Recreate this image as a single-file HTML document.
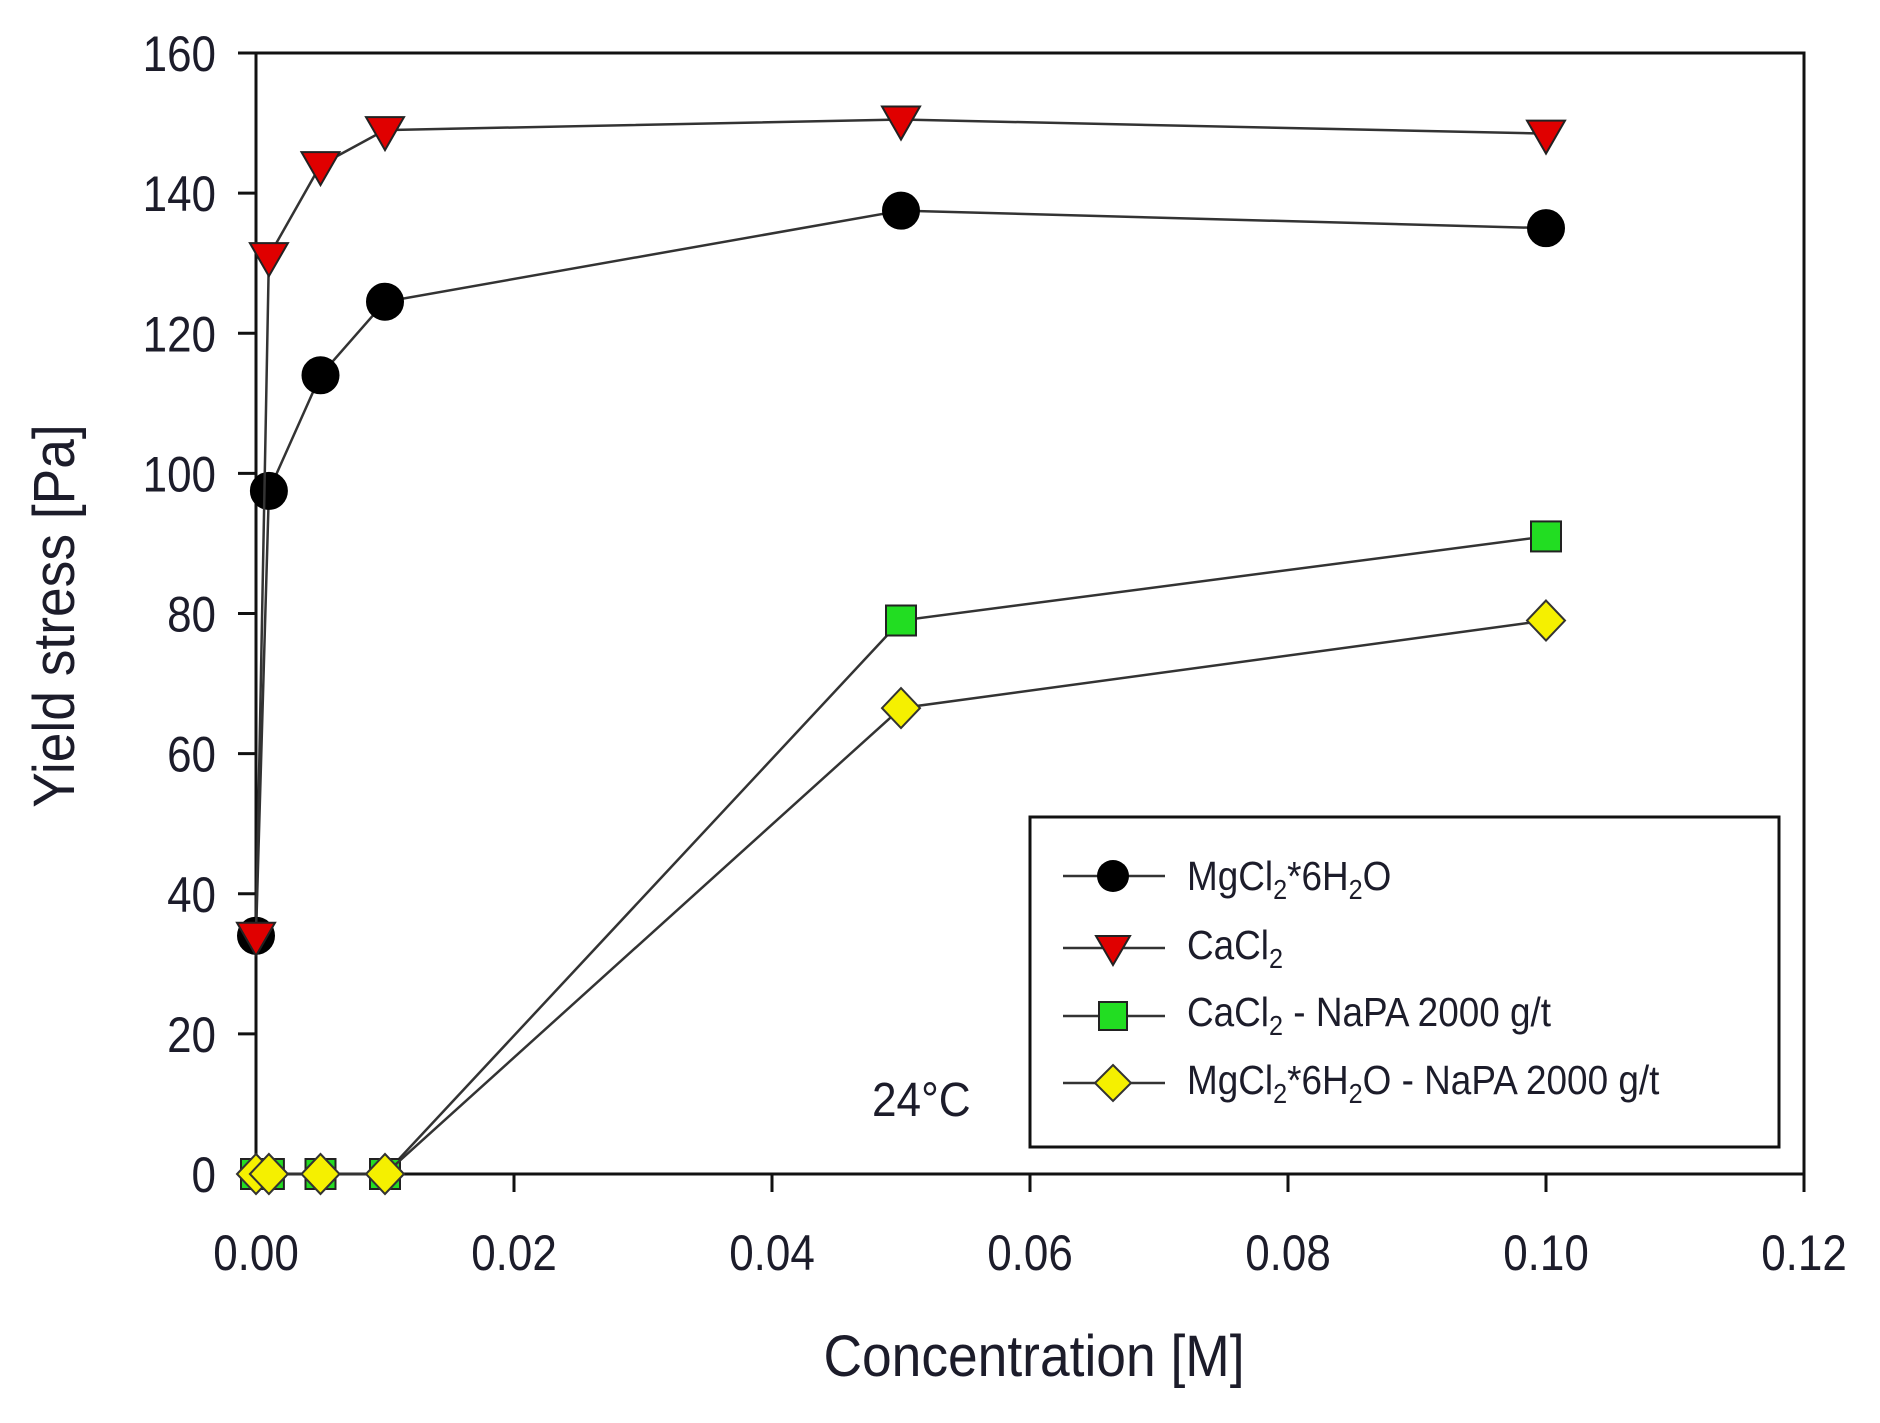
<!DOCTYPE html>
<html><head><meta charset="utf-8"><style>
body{margin:0;background:#fff}
svg text{font-family:"Liberation Sans",sans-serif;fill:#1c1c2a}
</style></head><body>
<svg id="chart" width="1880" height="1418" viewBox="0 0 1880 1418" xmlns="http://www.w3.org/2000/svg"></svg>
<script>
const xTicks=[0,0.02,0.04,0.06,0.08,0.10,0.12];
const xTickLabels=["0.00","0.02","0.04","0.06","0.08","0.10","0.12"];
const yTicks=[0,20,40,60,80,100,120,140,160];
const conc=[0,0.001,0.005,0.01,0.05,0.1];
const mgValues=[34,97.5,114,124.5,137.5,135];
const caValues=[34,131,144,149,150.5,148.5];
const caNapaValues=[0,0,0,0,79,91];
const mgNapaValues=[0,0,0,0,66.5,79];
const L=256,R=1804,T=53,B=1174;
const xs=v=>L+(v-0)/(0.12)*(R-L);
const ys=v=>B-v/160*(B-T);
const svg=document.getElementById('chart');
const NS='http://www.w3.org/2000/svg';
function mk(tag,attrs,parent){const e=document.createElementNS(NS,tag);for(const k in attrs)e.setAttribute(k,attrs[k]);(parent||svg).appendChild(e);return e;}
const frame=mk('rect',{x:L,y:T,width:R-L,height:B-T,fill:'none',stroke:'#111','stroke-width':3});


xTicks.forEach((t,i)=>{
  const tk=mk('line',{x1:xs(t),x2:xs(t),y1:B,y2:B+18,stroke:'#111','stroke-width':3});
  
  
  const tx=mk('text',{x:0,y:0,'font-size':50,'text-anchor':'middle',transform:`translate(${xs(t)},1270) scale(0.88,1)`});
  tx.textContent=xTickLabels[i];
  
  
});
yTicks.forEach(t=>{
  const tk=mk('line',{x1:L-18,x2:L,y1:ys(t),y2:ys(t),stroke:'#111','stroke-width':3});
  
  
  const tx=mk('text',{x:0,y:0,'font-size':50,'text-anchor':'end',transform:`translate(216,${ys(t)+18}) scale(0.88,1)`});
  tx.textContent=String(t);
  
  
});
const xt=mk('text',{x:0,y:0,'font-size':58,'text-anchor':'middle',transform:'translate(1034,1376) scale(0.92,1)'});
xt.textContent='Concentration [M]';


const yt=mk('text',{x:0,y:0,'font-size':58,'text-anchor':'middle',transform:'translate(74,616) rotate(-90) scale(0.92,1)'});
yt.textContent='Yield stress [Pa]';



function marker(type,cx,cy,g){
  let e;
  if(type==='circle')e=mk('circle',{cx,cy,r:18,fill:'#000',stroke:'#000','stroke-width':2},g);
  else if(type==='tri')e=mk('polygon',{points:`${cx-19},${cy-13} ${cx+19},${cy-13} ${cx},${cy+20}`,fill:'#e00000',stroke:'#222','stroke-width':2},g);
  else if(type==='square')e=mk('rect',{x:cx-15,y:cy-15,width:30,height:30,fill:'#22dd22',stroke:'#222','stroke-width':2},g);
  else e=mk('polygon',{points:`${cx},${cy-20} ${cx+19},${cy} ${cx},${cy+20} ${cx-19},${cy}`,fill:'#f5f000',stroke:'#333','stroke-width':2},g);
  return e;
}
const series=[
 {name:'mgcl2',vals:mgValues,type:'circle'},
 {name:'cacl2',vals:caValues,type:'tri'},
 {name:'cacl2-napa',vals:caNapaValues,type:'square'},
 {name:'mgcl2-napa',vals:mgNapaValues,type:'diamond'}];
series.forEach(s=>{
  const g=mk('g',{});
  
  
  const pl=mk('polyline',{points:conc.map((c,i)=>xs(c)+','+ys(s.vals[i])).join(' '),fill:'none',stroke:'#333','stroke-width':2.5},g);
  
  
  conc.forEach((c,i)=>{
    const m=marker(s.type,xs(c),ys(s.vals[i]),g);
    
    
  });
});
const tl=mk('text',{x:0,y:0,'font-size':48,transform:'translate(872,1116) scale(0.92,1)'});
tl.textContent='24°C';


</script>
<svg style="position:absolute;left:0;top:0" width="1880" height="1418" font-family="Liberation Sans, sans-serif" fill="#1c1c2a" font-size="41">
<rect x="1030" y="817" width="749" height="330" fill="#fff" stroke="#111" stroke-width="3"/>
<g><line x1="1063" x2="1165" y1="876" y2="876" stroke="#333" stroke-width="2.5"/><circle cx="1113" cy="876" r="16" fill="#000"/><text transform="translate(1187,890) scale(0.9,1)">MgCl<tspan font-size="28" dy="9">2</tspan><tspan dy="-9">*6H</tspan><tspan font-size="28" dy="9">2</tspan><tspan dy="-9">O</tspan></text></g>
<g><line x1="1063" x2="1165" y1="948" y2="948" stroke="#333" stroke-width="2.5"/><polygon points="1096,936 1130,936 1113,965" fill="#e00000" stroke="#222" stroke-width="2"/><text transform="translate(1187,959) scale(0.9,1)">CaCl<tspan font-size="28" dy="9">2</tspan></text></g>
<g><line x1="1063" x2="1165" y1="1016" y2="1016" stroke="#333" stroke-width="2.5"/><rect x="1099" y="1002" width="28" height="28" fill="#22dd22" stroke="#222" stroke-width="2"/><text transform="translate(1187,1026) scale(0.9,1)">CaCl<tspan font-size="28" dy="9">2</tspan><tspan dy="-9"> - NaPA 2000 g/t</tspan></text></g>
<g><line x1="1063" x2="1165" y1="1083" y2="1083" stroke="#333" stroke-width="2.5"/><polygon points="1113,1065 1131,1083 1113,1101 1095,1083" fill="#f5f000" stroke="#333" stroke-width="2"/><text transform="translate(1187,1094) scale(0.9,1)">MgCl<tspan font-size="28" dy="9">2</tspan><tspan dy="-9">*6H</tspan><tspan font-size="28" dy="9">2</tspan><tspan dy="-9">O - NaPA 2000 g/t</tspan></text></g>
</svg>
</body></html>
